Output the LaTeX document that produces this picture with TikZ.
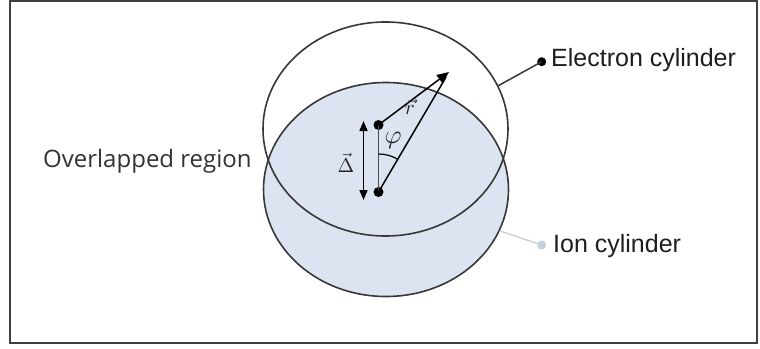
\documentclass[tikz,border=0pt]{standalone}
\usepackage{fontspec}
\setmainfont{Liberation Sans}
\newfontfamily\ovfont{Open Sans}
\usetikzlibrary{arrows.meta,shapes.geometric,calc}
\definecolor{ionfill}{RGB}{219,228,240}
\definecolor{linec}{RGB}{55,55,55}
\definecolor{ionlink}{RGB}{205,211,218}
\definecolor{iondot}{RGB}{196,207,221}
\definecolor{txt}{RGB}{30,30,30}
\begin{document}
\begin{tikzpicture}[x=1pt,y=-1pt,
  cyl/.style={ellipse, draw=linec, line width=1.6pt, inner sep=0pt, minimum width=245pt, minimum height=214pt},
  dot/.style={circle, fill=black, inner sep=0pt, minimum size=10pt},
  smalldot/.style={circle, fill=black, inner sep=0pt, minimum size=9pt},
  lbl/.style={inner sep=0pt, anchor=base west, text=txt, font=\fontsize{25}{30}\selectfont},
  mathlbl/.style={inner sep=0pt, text={rgb,255:red,40;green,40;blue,40}},
  vec/.style={line width=1.5pt, draw=black},
  tri/.style={-{Triangle[length=12pt,width=10pt]}}
]
\useasboundingbox (0,0) rectangle (760,348);
\draw[line width=1.6pt, draw=black!75] (10,1) rectangle (757,343);

% ion cylinder (filled) and electron cylinder (outline)
\node[cyl, fill=ionfill] (ion) at (386,189.5) {};
\node[cyl] (elec) at (385.5,129) {};

% centres
\node[dot] (top) at (378.5,125) {};
\node[dot] (bot) at (378.5,192) {};
\coordinate (tip) at (449,72);
\coordinate (dA) at (363.5,121);
\coordinate (dB) at (363.5,200);

\draw[line width=1.5pt, draw=black!70] (top.center) -- (bot.center);
\draw[vec, tri] (top.center) -- (tip);
\draw[vec] (bot.center) -- ($(tip)!6pt!(bot.center)$);
\draw[vec, {Triangle[length=10pt,width=8pt]}-{Triangle[length=10pt,width=8pt]}] (dA) -- (dB);
\draw[line width=1.2pt] ([yshift=38pt]bot.center) arc[start angle=-90, end angle=-60, radius=38];

\node[mathlbl] (rl) at (410,107) {\scalebox{2.1}{$\boldmath\vec{r}$}};
\node[mathlbl] (phl) at (393,140) {\scalebox{2.6}{$\varphi$}};
\node[mathlbl] (dl) at (346,163) {\scalebox{2.0}{$\vec{\Delta}$}};

% labels
\node[lbl, font=\ovfont\fontsize{24}{29}\selectfont, text={rgb,255:red,50;green,50;blue,50}] (ov) at (43,167) {Overlapped region};

\node[smalldot] (edot) at (541.7,61.7) {};
\draw[line width=1.5pt, draw=linec] (elec.21.5) -- (edot.center);
\node[lbl] (el) at (551,66) {Electron cylinder};

\node[smalldot, fill=iondot] (idot) at (541.7,245) {};
\draw[line width=1.5pt, draw=ionlink] (ion.-20) -- (idot.center);
\node[lbl] (il) at (553,252) {Ion cylinder};
\end{tikzpicture}
\end{document}
